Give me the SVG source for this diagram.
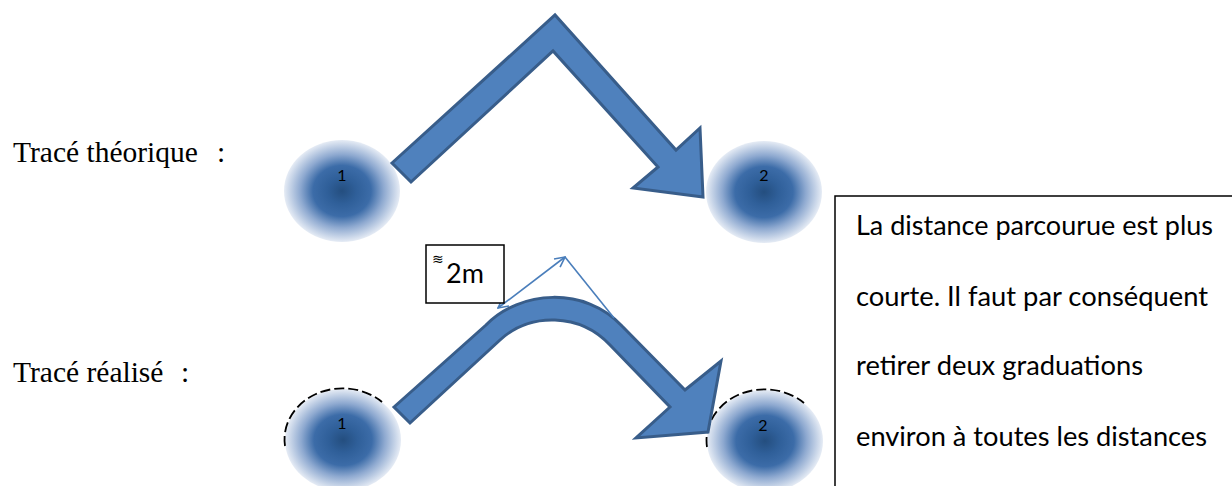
<svg xmlns="http://www.w3.org/2000/svg" width="1232" height="486" viewBox="0 0 1232 486">
  <style>
    .lbl { font-family: "Liberation Serif", "Times New Roman", serif; font-size: 29.5px; fill: #000; }
    .num { font-family: Lato, "Liberation Sans", sans-serif; font-size: 16px; fill: #000; text-anchor: middle; }
    .box { font-family: Lato, "Liberation Sans", sans-serif; font-size: 27px; fill: #000; }
    .big { fill: #4F81BD; stroke: #385D8A; stroke-width: 3; stroke-linejoin: miter; }
    .thin { fill: none; stroke: #4A7EBB; stroke-width: 1.6; }
    .frame { fill: #fff; stroke: #000; stroke-width: 1.5; }
  </style>
  <defs>
    <radialGradient id="blob" cx="50%" cy="50%" r="50%">
      <stop offset="0%" stop-color="#244E7F"/>
      <stop offset="25%" stop-color="#2F5F99"/>
      <stop offset="50%" stop-color="#3C6CA8"/>
      <stop offset="72%" stop-color="#8EA9D0"/>
      <stop offset="100%" stop-color="#E6ECF5"/>
    </radialGradient>
    <marker id="open" viewBox="0 0 12 12" refX="11" refY="6" markerWidth="12" markerHeight="12" markerUnits="userSpaceOnUse" orient="auto-start-reverse">
      <path d="M1,1 L11,6 L1,11" fill="none" stroke="#4A7EBB" stroke-width="1.6"/>
    </marker>
  </defs>
  <rect width="1232" height="486" fill="#fff"/>

  <g id="label-theorique">
    <text class="lbl" x="13" y="162">Tracé théorique<tspan x="217">:</tspan></text>
  </g>
  <g id="label-realise">
    <text class="lbl" x="13" y="382">Tracé réalisé<tspan x="181">:</tspan></text>
  </g>

  <g id="node-t1">
    <ellipse cx="342" cy="191" rx="58" ry="51" fill="url(#blob)"/>
    <text class="num" x="342" y="181">1</text>
  </g>
  <g id="node-t2">
    <ellipse cx="764" cy="192" rx="58" ry="51" fill="url(#blob)"/>
    <text class="num" x="764" y="181">2</text>
  </g>
  <g id="node-r1">
    <ellipse cx="343" cy="440" rx="58" ry="51" fill="url(#blob)"/>
    <path d="M285,446 A58,51 0 0 1 382,402" fill="none" stroke="#000" stroke-width="1.8" stroke-dasharray="10,4"/>
    <text class="num" x="342" y="429">1</text>
  </g>
  <g id="node-r2">
    <ellipse cx="765" cy="441" rx="58" ry="51" fill="url(#blob)"/>
    <path d="M707,447 A58,51 0 0 1 804,403" fill="none" stroke="#000" stroke-width="1.8" stroke-dasharray="10,4"/>
    <text class="num" x="763" y="431">2</text>
  </g>

  <g id="connectors">
    <polygon class="big" points="392,163 555,15 676,150 700,128 703,197 633,188 658,167 553,51 411,182"/>
    <path class="big" d="M394,407 L486,325 C520,290 585,286 622,326 L685,390 L721,361 L708,432 L636,438 L670,407 L610,345 C580,313 530,312 500,340 L410,423 Z"/>
    <line class="thin" x1="498" y1="308" x2="565" y2="257" marker-start="url(#open)" marker-end="url(#open)"/>
    <line class="thin" x1="565" y1="257" x2="614" y2="318"/>
  </g>

  <g id="dist-label">
    <rect class="frame" x="426" y="245" width="78" height="58" stroke-width="1.2"/>
    <text x="432" y="264" font-family="'DejaVu Sans', sans-serif" font-size="14" fill="#000">≋</text>
    <text x="446" y="283" font-family="Lato, 'Liberation Sans', sans-serif" font-size="27" fill="#000">2m</text>
  </g>

  <g id="note">
    <rect class="frame" x="835" y="196" width="420" height="320"/>
    <text class="box" x="856" y="235" textLength="357" lengthAdjust="spacingAndGlyphs">La distance parcourue est plus</text>
    <text class="box" x="856" y="306" textLength="352" lengthAdjust="spacingAndGlyphs">courte. Il faut par conséquent</text>
    <text class="box" x="856" y="375" textLength="287" lengthAdjust="spacingAndGlyphs">retirer deux graduations</text>
    <text class="box" x="856" y="446" textLength="351" lengthAdjust="spacingAndGlyphs">environ à toutes les distances</text>
  </g>
</svg>
